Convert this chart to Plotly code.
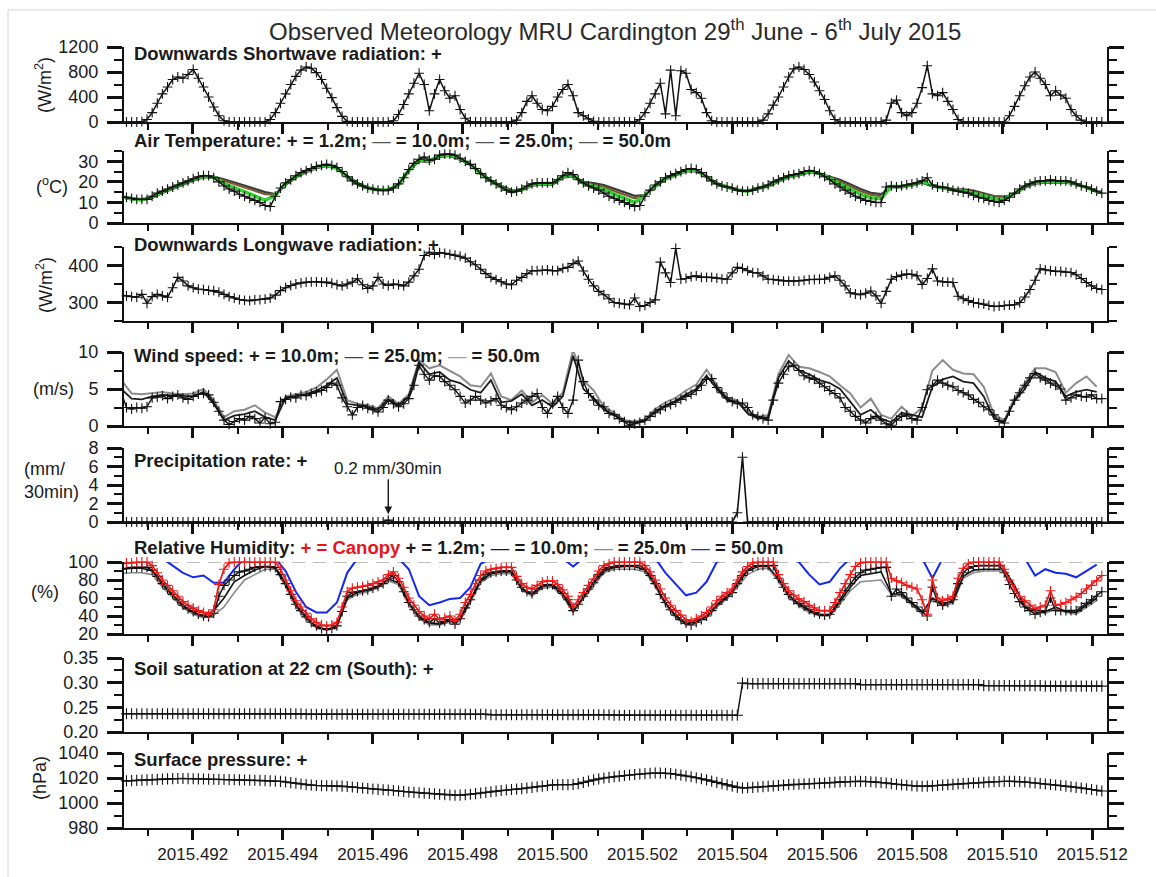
import numpy as np
import plotly.graph_objects as go

# ---------------------------------------------------------------------------
# Time base: hourly samples from 29 June 2015 00:00 UTC, as decimal year
# ---------------------------------------------------------------------------
YEAR = 2015
DAYS_IN_YEAR = 365
DAYS_BEFORE_START = 179          # 29 June is day-of-year 180
N_DAYS = 8
t_hour = YEAR + (DAYS_BEFORE_START + np.arange(N_DAYS * 24) / 24.0) / DAYS_IN_YEAR
t_2h = t_hour[::2]               # tower series are stored every 2 h

X_RANGE = [2015.49047, 2015.51233]
X_TICKS_MAJOR = 0.002
X_TICKS_MINOR = 0.001

# ---------------------------------------------------------------------------
# Observations (one row per day, 29 Jun ... 6 Jul)
# ---------------------------------------------------------------------------
# Downwards shortwave radiation (W/m2), hourly
sw_down = [
    0, 0, 0, 0, 5, 40, 150, 300, 450, 560, 680, 720, 700, 760, 840, 700, 560, 400, 240, 100, 20, 0, 0, 0,
    0, 0, 0, 0, 0, 40, 150, 300, 450, 600, 730, 830, 880, 860, 790, 680, 540, 390, 230, 90, 10, 0, 0, 0,
    0, 0, 0, 0, 0, 20, 120, 280, 450, 620, 780, 600, 180, 450, 680, 500, 380, 420, 200, 60, 5, 0, 0, 0,
    0, 0, 0, 0, 0, 30, 150, 330, 420, 300, 200, 180, 250, 400, 520, 600, 420, 150, 100, 50, 10, 0, 0, 0,
    0, 0, 0, 0, 0, 40, 150, 300, 450, 620, 130, 830, 100, 820, 780, 520, 470, 380, 150, 20, 0, 0, 0, 0,
    0, 0, 0, 0, 0, 30, 130, 270, 400, 560, 720, 850, 880, 840, 760, 640, 500, 360, 180, 40, 0, 0, 0, 0,
    0, 0, 0, 0, 0, 30, 300, 350, 150, 100, 150, 300, 550, 900, 450, 420, 470, 330, 200, 40, 0, 0, 0, 0,
    0, 0, 0, 0, 0, 100, 250, 420, 580, 720, 800, 700, 600, 420, 500, 430, 380, 200, 100, 30, 0, 0, 0, 0,
]

# Air temperature at 1.2 m (deg C), hourly
temp_1p2 = [
    13, 12.5, 12, 11.5, 11.5, 11.5, 13, 14.5, 15.5, 16.5, 17.5, 18.5, 19.5, 20.5, 21.5, 22.5, 23, 23, 22, 20, 18, 16.5, 15.5, 14,
    13, 12, 11, 10, 8.5, 8, 13, 17, 19.5, 21, 23, 24.5, 25.5, 26.5, 27.5, 28, 28.5, 28, 27, 25, 22.5, 20.5, 19, 18,
    17, 16.5, 16, 15.8, 16, 17, 19, 22, 26, 29, 31, 32, 30.5, 31, 33, 33.5, 33.5, 33, 31.5, 30, 28.5, 26.5, 24, 22,
    20.5, 19, 17.5, 16, 15, 15.5, 16.5, 18, 19, 19.5, 19.5, 19.5, 19.5, 21, 23, 24.5, 23.5, 21, 19.5, 18, 17, 16, 14.5, 13,
    12, 11, 10, 9, 8, 8.5, 13, 16, 18.5, 20, 22, 23, 24, 25, 26, 26.5, 26, 24.5, 22.5, 20.5, 19, 18, 17.5, 17,
    16, 15.5, 15.5, 16, 17, 17.5, 18.5, 20, 21, 22, 23, 23.5, 24, 25, 25.5, 25, 24, 22.5, 21, 19, 17.5, 16, 14.5, 13,
    12, 11, 10.5, 10, 10, 17.5, 18, 17.5, 18, 18.5, 19, 19.5, 20.5, 22, 18.5, 17.5, 17.5, 17, 16, 15.5, 15, 14.5, 13.5, 12.5,
    12, 11, 10.5, 10, 11, 12.5, 14.5, 16.5, 18, 19, 20, 20.5, 20.5, 21, 20.5, 20.5, 20.5, 20, 19, 18, 17.5, 16.5, 15.5, 14.5,
]

# Tower air temperatures (deg C), every 2 h
temp_10 = [
    12.8, 11.8, 11.3, 12.7, 15.2, 17.2, 19.2, 21.2, 22.7, 22.2, 19.2, 17.3,
    15.2, 13.2, 11.0, 13.5, 19.2, 22.7, 25.2, 27.2, 28.2, 26.7, 22.4, 19.0,
    17.0, 16.0, 16.0, 18.7, 25.7, 30.7, 30.2, 32.7, 33.2, 31.2, 28.3, 24.0,
    20.4, 17.5, 15.0, 16.2, 18.7, 19.2, 19.2, 22.7, 23.2, 19.4, 18.0, 16.3,
    14.0, 12.0, 10.0, 13.5, 18.2, 21.7, 23.7, 25.7, 25.7, 22.5, 19.0, 17.5,
    16.0, 15.5, 16.8, 18.2, 20.7, 22.7, 23.7, 25.2, 24.0, 21.8, 19.0, 16.3,
    14.0, 12.3, 11.8, 17.8, 17.8, 18.7, 20.2, 18.3, 17.3, 16.0, 15.5, 14.5,
    13.3, 11.8, 11.8, 14.3, 17.8, 19.7, 20.2, 20.2, 20.2, 18.8, 17.3, 15.3,
]
temp_25 = [
    12.6, 11.6, 11.1, 12.4, 14.9, 16.9, 18.9, 20.9, 22.4, 22.3, 20.6, 19.0,
    17.2, 15.6, 14.0, 13.8, 18.9, 22.4, 24.9, 26.9, 27.9, 26.5, 22.6, 19.3,
    17.1, 16.1, 16.0, 18.5, 25.4, 30.4, 29.9, 32.4, 32.9, 31.0, 28.3, 24.2,
    20.5, 17.8, 15.5, 16.0, 18.4, 18.9, 18.9, 22.4, 22.9, 19.8, 18.8, 17.6,
    15.6, 13.8, 12.0, 13.6, 17.9, 21.4, 23.4, 25.4, 25.4, 22.7, 19.2, 17.7,
    16.0, 15.5, 16.6, 17.9, 20.4, 22.4, 23.4, 24.9, 24.0, 22.2, 20.2, 17.8,
    15.5, 13.8, 13.0, 17.5, 17.5, 18.4, 19.9, 18.0, 17.0, 16.2, 16.0, 15.2,
    14.0, 12.6, 12.4, 14.1, 17.4, 19.4, 19.9, 19.9, 19.9, 18.8, 17.4, 15.6,
]
temp_50 = [
    12.5, 11.5, 11.0, 12.2, 14.6, 16.6, 18.6, 20.6, 22.1, 22.5, 21.2, 19.8,
    18.2, 16.6, 15.0, 14.0, 18.6, 22.1, 24.6, 26.6, 27.6, 26.4, 22.8, 19.6,
    17.3, 16.3, 16.0, 18.3, 25.1, 30.1, 29.6, 32.1, 32.6, 30.8, 28.3, 24.4,
    20.7, 18.1, 16.0, 15.8, 18.1, 18.6, 18.6, 22.1, 22.6, 20.0, 19.4, 18.4,
    16.7, 15.0, 13.2, 13.6, 17.6, 21.1, 23.1, 25.1, 25.1, 22.9, 19.4, 17.8,
    16.0, 15.5, 16.5, 17.7, 20.1, 22.1, 23.1, 24.6, 24.0, 22.5, 21.0, 18.8,
    16.5, 14.7, 14.0, 17.3, 17.3, 18.1, 19.6, 17.8, 16.8, 16.3, 16.4, 15.7,
    14.4, 13.1, 12.8, 14.0, 17.1, 19.1, 19.6, 19.6, 19.6, 18.8, 17.5, 15.9,
]

# Downwards longwave radiation (W/m2), hourly
lw_down = [
    320, 318, 316, 314, 322, 298, 316, 322, 318, 314, 340, 368, 358, 345, 340, 336, 335, 333, 332, 328, 322, 316, 312, 308,
    306, 305, 307, 308, 309, 312, 320, 332, 340, 346, 350, 353, 355, 356, 356, 355, 355, 352, 348, 345, 350, 355, 364, 348,
    338, 345, 368, 350, 346, 350, 348, 345, 355, 372, 390, 427, 436, 430, 435, 433, 430, 428, 425, 420, 410, 402, 390, 378,
    368, 362, 356, 350, 348, 360, 368, 378, 386, 386, 387, 388, 386, 386, 392, 395, 405, 412, 385, 363, 345, 330, 321, 310,
    300, 298, 296, 294, 312, 289, 292, 300, 307, 409, 380, 354, 446, 363, 365, 370, 372, 368, 368, 368, 366, 364, 363, 380,
    395, 392, 386, 381, 380, 372, 363, 362, 360, 358, 358, 358, 358, 360, 362, 362, 363, 363, 368, 372, 360, 345, 326, 323,
    321, 325, 331, 318, 298, 330, 363, 370, 374, 377, 376, 372, 349, 365, 391, 358, 356, 355, 354, 317, 310, 305, 300, 298,
    296, 292, 289, 290, 292, 293, 294, 300, 315, 335, 360, 391, 388, 386, 384, 384, 382, 381, 375, 365, 354, 345, 338, 335,
]

# Wind speed at 10 m (m/s), hourly
wind_10 = [
    4.5, 2.5, 2.3, 2.5, 2.4, 2.6, 3.8, 3.9, 4.1, 3.7, 4.0, 4.2, 3.8, 3.6, 4.0, 4.3, 4.4, 4.2, 3.2, 2.0, 0.8, 0.2, 0.6, 1.0,
    0.8, 1.3, 1.0, 0.4, 1.1, 0.3, 0.5, 3.3, 3.6, 3.9, 3.8, 4.2, 4.1, 4.4, 4.6, 4.8, 5.2, 5.8, 5.5, 3.8, 2.6, 1.5, 2.5, 2.8,
    2.4, 2.2, 1.9, 2.5, 3.5, 3.0, 2.6, 3.0, 3.7, 5.5, 8.2, 7.0, 6.2, 6.8, 6.7, 6.0, 5.5, 4.9, 4.0, 3.1, 3.5, 4.0, 3.5, 3.1,
    3.4, 3.7, 2.8, 2.5, 2.2, 2.6, 3.1, 3.5, 4.0, 4.4, 2.5, 1.7, 3.0, 4.0, 2.5, 1.7, 3.5, 8.9, 6.0, 4.4, 3.5, 2.8, 2.6, 1.7,
    1.5, 1.0, 0.6, 0.1, 0.3, 0.5, 0.8, 1.3, 1.8, 2.2, 2.6, 2.9, 3.2, 3.6, 4.0, 4.3, 4.8, 5.5, 6.3, 6.4, 5.2, 4.5, 3.8, 3.3,
    3.0, 3.1, 2.5, 1.5, 1.3, 1.0, 0.8, 3.5, 5.8, 7.0, 8.0, 8.2, 7.5, 6.8, 6.5, 6.3, 5.8, 5.3, 4.8, 4.4, 3.8, 2.5, 2.0, 1.3,
    0.8, 0.4, 1.0, 1.3, 0.8, 0.3, 0.1, 0.8, 1.3, 1.5, 1.0, 0.8, 2.5, 4.9, 5.5, 6.2, 5.8, 5.5, 5.3, 4.8, 4.5, 4.2, 3.6, 3.2,
    2.6, 2.2, 1.5, 0.6, 0.4, 2.0, 3.5, 4.5, 5.5, 6.5, 7.1, 6.5, 6.2, 5.8, 5.5, 5.0, 3.5, 3.8, 4.2, 4.0, 3.9, 4.2, 3.7, 3.7,
]

# Tower wind speeds (m/s), every 2 h
wind_25 = [
    5.0, 3.7, 3.6, 4.0, 4.2, 4.1, 4.0, 4.0, 4.6, 3.0, 0.8, 1.4,
    1.6, 2.0, 1.2, 0.8, 3.8, 4.0, 4.3, 4.8, 5.5, 6.5, 3.0, 2.8,
    2.6, 2.2, 3.6, 2.8, 4.0, 8.6, 7.0, 7.3, 6.2, 5.8, 4.9, 4.5,
    6.2, 3.2, 3.4, 4.3, 2.8, 3.5, 2.6, 4.0, 9.5, 5.0, 3.8, 2.2,
    1.5, 0.6, 0.5, 0.7, 2.0, 2.8, 3.4, 4.3, 5.0, 6.8, 5.0, 3.5,
    3.3, 1.7, 1.0, 1.2, 6.5, 8.8, 7.5, 7.0, 6.2, 5.8, 5.0, 3.3,
    1.5, 2.2, 1.0, 0.5, 1.8, 1.5, 1.2, 5.3, 6.3, 6.7, 6.0, 5.8,
    4.0, 1.0, 0.6, 3.4, 5.0, 7.3, 6.5, 6.0, 4.0, 4.6, 4.9, 4.6,
]
wind_50 = [
    6.2, 4.4, 4.3, 4.4, 4.6, 4.4, 4.3, 4.4, 5.0, 3.5, 1.2, 2.0,
    2.2, 2.8, 1.8, 1.2, 4.0, 4.3, 4.6, 5.2, 6.3, 7.6, 3.5, 3.0,
    2.8, 2.4, 4.0, 3.0, 4.3, 8.9, 7.8, 8.2, 7.5, 6.7, 5.5, 5.3,
    7.1, 4.0, 3.5, 4.8, 3.2, 4.2, 3.0, 4.5, 10.3, 6.2, 4.8, 2.6,
    1.8, 0.8, 0.6, 0.9, 2.3, 3.2, 3.8, 4.8, 5.6, 7.6, 5.5, 3.8,
    3.5, 2.0, 1.2, 1.5, 7.0, 9.6, 8.0, 7.8, 7.3, 6.7, 5.5, 4.4,
    2.5, 3.7, 1.5, 1.0, 2.6, 1.3, 2.5, 7.5, 8.9, 7.6, 7.1, 7.0,
    5.3, 1.5, 0.8, 3.8, 5.8, 7.8, 7.8, 7.3, 4.5, 5.8, 6.7, 5.3,
]

# Precipitation rate (mm/30min), hourly
precip = [
    0, 0, 0, 0, 0, 0, 0, 0, 0, 0, 0, 0, 0, 0, 0, 0, 0, 0, 0, 0, 0, 0, 0, 0,
    0, 0, 0, 0, 0, 0, 0, 0, 0, 0, 0, 0, 0, 0, 0, 0, 0, 0, 0, 0, 0, 0, 0, 0,
    0, 0, 0, 0, 0.2, 0, 0, 0, 0, 0, 0, 0, 0, 0, 0, 0, 0, 0, 0, 0, 0, 0, 0, 0,
    0, 0, 0, 0, 0, 0, 0, 0, 0, 0, 0, 0, 0, 0, 0, 0, 0, 0, 0, 0, 0, 0, 0, 0,
    0, 0, 0, 0, 0, 0, 0, 0, 0, 0, 0, 0, 0, 0, 0, 0, 0, 0, 0, 0, 0, 0, 0, 0,
    1.0, 7.0, 0, 0, 0, 0, 0, 0, 0, 0, 0, 0, 0, 0, 0, 0, 0, 0, 0, 0, 0, 0, 0, 0,
    0, 0, 0, 0, 0, 0, 0, 0, 0, 0, 0, 0, 0, 0, 0, 0, 0, 0, 0, 0, 0, 0, 0, 0,
    0, 0, 0, 0, 0, 0, 0, 0, 0, 0, 0, 0, 0, 0, 0, 0, 0, 0, 0, 0, 0, 0, 0, 0,
]
PRECIP_NOTE_INDEX = 52           # the 0.2 mm/30min sample on 1 July

# Relative humidity (%), canopy and 1.2 m, hourly
rh_canopy = [
    98, 99, 99, 100, 100, 100, 96, 88, 80, 74, 68, 62, 56, 52, 49, 46, 44, 42, 47, 75, 92, 99, 100, 100,
    100, 100, 100, 100, 100, 100, 100, 92, 80, 68, 57, 50, 43, 37, 33, 30, 29, 30, 33, 50, 67, 71, 72, 73,
    74, 76, 78, 80, 86, 89, 82, 72, 60, 52, 45, 40, 37, 42, 36, 38, 40, 35, 42, 55, 64, 76, 85, 90,
    92, 93, 94, 94, 94, 84, 76, 72, 70, 74, 78, 79, 79, 75, 69, 62, 50, 58, 66, 74, 81, 90, 96, 98,
    100, 100, 100, 100, 100, 100, 96, 89, 80, 70, 60, 52, 46, 41, 36, 34, 37, 40, 44, 50, 57, 62, 66, 70,
    80, 89, 95, 99, 100, 100, 100, 100, 86, 76, 68, 63, 59, 56, 52, 49, 46, 46, 46, 55, 66, 76, 86, 95,
    99, 100, 100, 100, 100, 100, 82, 79, 77, 74, 72, 70, 58, 42, 80, 60, 57, 59, 62, 82, 93, 98, 100, 100,
    100, 100, 100, 100, 92, 80, 70, 62, 57, 52, 48, 50, 52, 68, 52, 53, 55, 58, 61, 65, 70, 74, 79, 85,
]
rh_1p2 = [
    92, 93, 94, 94, 94, 94, 91, 84, 76, 70, 64, 58, 52, 48, 45, 42, 40, 39, 43, 62, 74, 80, 85, 89,
    90, 92, 94, 95, 95, 95, 94, 86, 76, 64, 53, 46, 39, 33, 29, 26, 25, 26, 29, 45, 62, 66, 67, 68,
    69, 71, 73, 76, 82, 85, 78, 67, 55, 47, 40, 36, 33, 37, 32, 34, 36, 31, 37, 49, 58, 70, 80, 86,
    88, 89, 90, 90, 90, 80, 72, 67, 65, 70, 74, 75, 75, 71, 65, 58, 46, 53, 62, 70, 77, 86, 92, 94,
    95, 96, 96, 96, 96, 96, 92, 85, 76, 64, 55, 47, 41, 36, 32, 30, 33, 36, 40, 46, 53, 58, 62, 66,
    76, 85, 91, 95, 96, 96, 96, 96, 82, 72, 64, 58, 54, 51, 47, 44, 42, 41, 42, 50, 58, 68, 76, 83,
    88, 91, 92, 93, 94, 94, 62, 70, 66, 60, 55, 50, 45, 40, 72, 56, 52, 55, 58, 76, 88, 93, 95, 96,
    96, 96, 96, 96, 88, 75, 65, 56, 50, 46, 42, 44, 46, 60, 46, 46, 46, 46, 46, 50, 54, 58, 62, 67,
]

# Tower relative humidity (%), every 2 h (50 m often above the plotted range)
rh_10 = [
    92, 93, 93, 90, 75, 63, 51, 44, 40, 46, 60, 78,
    85, 91, 95, 93, 75, 52, 38, 28, 25, 29, 60, 66,
    69, 73, 81, 77, 54, 39, 32, 31, 35, 36, 57, 79,
    87, 89, 89, 70, 64, 73, 74, 64, 45, 61, 76, 90,
    94, 95, 95, 91, 75, 54, 40, 31, 35, 39, 52, 61,
    75, 90, 95, 95, 81, 63, 53, 46, 41, 41, 56, 72,
    85, 87, 89, 65, 64, 54, 44, 60, 53, 56, 84, 91,
    92, 92, 92, 74, 50, 47, 45, 50, 45, 44, 52, 60,
]
rh_25 = [
    87, 88, 88, 86, 72, 60, 49, 42, 38, 41, 50, 66,
    80, 86, 92, 92, 73, 50, 36, 27, 24, 28, 58, 64,
    67, 71, 79, 75, 52, 37, 30, 30, 33, 35, 55, 77,
    85, 87, 87, 69, 62, 71, 72, 62, 44, 59, 74, 88,
    92, 92, 92, 89, 73, 52, 38, 30, 34, 38, 50, 59,
    72, 86, 92, 93, 79, 61, 51, 44, 40, 40, 53, 68,
    78, 79, 80, 64, 62, 52, 42, 58, 51, 54, 82, 88,
    90, 90, 90, 72, 49, 45, 43, 48, 44, 42, 50, 57,
]
rh_50 = [
    104, 104, 104, 104, 104, 96, 88, 83, 85, 77, 77, 92,
    104, 104, 104, 104, 90, 67, 50, 44, 44, 55, 88, 104,
    104, 104, 104, 104, 92, 62, 52, 55, 59, 60, 72, 98,
    104, 104, 104, 104, 104, 104, 104, 104, 95, 104, 104, 104,
    104, 104, 104, 104, 104, 88, 75, 63, 66, 78, 100, 104,
    104, 104, 104, 104, 104, 104, 100, 86, 75, 78, 93, 104,
    104, 104, 104, 104, 104, 104, 104, 82, 104, 104, 104, 104,
    104, 104, 104, 104, 104, 85, 92, 88, 87, 83, 90, 97,
]
RH_SATURATION = 100

# Soil saturation at 22 cm (South), hourly
soil_sat = [
    0.237, 0.237, 0.237, 0.237, 0.237, 0.237, 0.237, 0.237, 0.237, 0.237, 0.237, 0.237,
    0.237, 0.237, 0.237, 0.237, 0.237, 0.237, 0.237, 0.237, 0.237, 0.237, 0.237, 0.237,
    0.237, 0.237, 0.237, 0.237, 0.237, 0.237, 0.237, 0.237, 0.237, 0.237, 0.237, 0.237,
    0.236, 0.236, 0.236, 0.236, 0.236, 0.236, 0.236, 0.236, 0.236, 0.236, 0.236, 0.236,
    0.236, 0.236, 0.236, 0.236, 0.236, 0.236, 0.236, 0.236, 0.236, 0.236, 0.236, 0.236,
    0.236, 0.236, 0.236, 0.236, 0.236, 0.236, 0.236, 0.236, 0.236, 0.236, 0.236, 0.236,
    0.235, 0.235, 0.235, 0.235, 0.235, 0.235, 0.235, 0.235, 0.235, 0.235, 0.235, 0.235,
    0.235, 0.235, 0.235, 0.235, 0.235, 0.235, 0.235, 0.235, 0.235, 0.235, 0.235, 0.235,
    0.234, 0.234, 0.234, 0.234, 0.234, 0.234, 0.234, 0.234, 0.234, 0.234, 0.234, 0.234,
    0.234, 0.234, 0.234, 0.234, 0.234, 0.234, 0.234, 0.234, 0.234, 0.234, 0.234, 0.234,
    0.234, 0.299, 0.298, 0.298, 0.298, 0.298, 0.298, 0.298, 0.298, 0.298, 0.298, 0.298,
    0.298, 0.298, 0.298, 0.298, 0.298, 0.298, 0.298, 0.298, 0.298, 0.298, 0.298, 0.298,
    0.296, 0.296, 0.296, 0.296, 0.296, 0.296, 0.296, 0.296, 0.296, 0.296, 0.296, 0.296,
    0.296, 0.296, 0.296, 0.296, 0.296, 0.296, 0.296, 0.296, 0.296, 0.296, 0.296, 0.296,
    0.294, 0.294, 0.294, 0.294, 0.294, 0.294, 0.294, 0.294, 0.294, 0.294, 0.294, 0.294,
    0.293, 0.293, 0.293, 0.293, 0.293, 0.293, 0.293, 0.293, 0.293, 0.293, 0.293, 0.293,
]

# Surface pressure (hPa), hourly
pressure = [
    1017.5, 1017.7, 1017.9, 1018.1, 1018.3, 1018.5, 1018.7, 1018.9, 1019.1, 1019.3, 1019.5, 1019.6, 1019.6, 1019.5, 1019.4, 1019.3, 1019.2, 1019.1, 1019.0, 1018.9, 1018.8, 1018.7, 1018.6, 1018.5,
    1018.4, 1018.3, 1018.2, 1018.1, 1017.9, 1017.7, 1017.5, 1017.3, 1016.8, 1016.3, 1015.8, 1015.2, 1014.7, 1014.3, 1014.0, 1013.9, 1013.8, 1013.7, 1013.6, 1013.5, 1013.2, 1012.8, 1012.4, 1012.0,
    1011.6, 1011.2, 1010.9, 1010.6, 1010.3, 1010.0, 1009.6, 1009.2, 1008.8, 1008.5, 1008.2, 1007.9, 1007.6, 1007.3, 1007.0, 1006.7, 1006.4, 1006.2, 1006.3, 1006.6, 1007.0, 1007.5, 1008.0, 1008.5,
    1009.0, 1009.5, 1010.0, 1010.4, 1010.8, 1011.1, 1011.5, 1012.0, 1012.5, 1013.0, 1013.5, 1014.0, 1014.5, 1014.7, 1014.7, 1014.7, 1014.8, 1015.5, 1016.5, 1017.5, 1018.5, 1019.3, 1020.0, 1020.5,
    1021.0, 1021.5, 1022.0, 1022.4, 1022.8, 1023.2, 1023.5, 1023.8, 1024.0, 1024.0, 1023.8, 1023.5, 1023.0, 1022.3, 1021.6, 1021.0, 1020.2, 1019.4, 1018.5, 1017.5, 1016.5, 1015.5, 1014.5, 1013.5,
    1012.5, 1012.0, 1012.2, 1012.5, 1012.8, 1013.1, 1013.4, 1013.7, 1014.0, 1014.4, 1014.7, 1014.9, 1015.0, 1015.2, 1015.4, 1015.6, 1015.8, 1016.0, 1016.3, 1016.6, 1016.9, 1017.1, 1017.2, 1017.3,
    1017.3, 1017.2, 1017.0, 1016.7, 1016.4, 1016.0, 1015.5, 1015.0, 1014.6, 1014.2, 1013.8, 1013.5, 1013.4, 1013.5, 1013.7, 1014.0, 1014.3, 1014.6, 1014.9, 1015.2, 1015.5, 1015.8, 1016.0, 1016.2,
    1016.5, 1016.8, 1017.0, 1017.2, 1017.3, 1017.3, 1017.3, 1017.1, 1016.8, 1016.4, 1016.0, 1015.6, 1015.2, 1014.8, 1014.4, 1014.0, 1013.5, 1013.0, 1012.5, 1012.0, 1011.4, 1010.8, 1010.2, 1009.6,
]

for name, series, n in [
    ("sw_down", sw_down, 192), ("temp_1p2", temp_1p2, 192), ("lw_down", lw_down, 192),
    ("wind_10", wind_10, 192), ("precip", precip, 192), ("rh_canopy", rh_canopy, 192),
    ("rh_1p2", rh_1p2, 192), ("soil_sat", soil_sat, 192), ("pressure", pressure, 192),
    ("temp_10", temp_10, 96), ("temp_25", temp_25, 96), ("temp_50", temp_50, 96),
    ("wind_25", wind_25, 96), ("wind_50", wind_50, 96),
    ("rh_10", rh_10, 96), ("rh_25", rh_25, 96), ("rh_50", rh_50, 96),
]:
    assert len(series) == n, (name, len(series))

# ---------------------------------------------------------------------------
# Page layout (pixels)
# ---------------------------------------------------------------------------
W, H = 1156, 877
PLOT_LEFT, PLOT_RIGHT = 124, 1107
FONT = "Arial, Liberation Sans, sans-serif"
INK = "#1a1a1a"
TITLE_SIZE = 18.5

panels = [
    dict(top=47, bottom=122, rng=[0, 1200], dtick=400, minor=200, fmt=None),
    dict(top=151, bottom=223, rng=[0, 35], dtick=10, minor=5, fmt=None),
    dict(top=247, bottom=321, rng=[250, 450], dtick=100, minor=50, fmt=None),
    dict(top=352, bottom=426, rng=[0, 10], dtick=5, minor=2.5, fmt=None),
    dict(top=448, bottom=522, rng=[0, 8], dtick=2, minor=1, fmt=None),
    dict(top=562, bottom=634, rng=[20, 100], dtick=20, minor=10, fmt=None),
    dict(top=658, bottom=732, rng=[0.20, 0.35], dtick=0.05, minor=0.025, fmt=".2f"),
    dict(top=753, bottom=828, rng=[980, 1040], dtick=20, minor=10, fmt=None),
]
N = len(panels)


def px_x(p):
    return p / W


def px_y(p):
    return 1 - p / H


fig = go.Figure()


def ax_names(i):
    return ("x" if i == 1 else f"x{i}"), ("y" if i == 1 else f"y{i}")


def add_series(i, x, y, color, width=1.3, marker=False, msize=7, dash=None):
    xa, ya = ax_names(i)
    kw = dict(x=x, y=y, xaxis=xa, yaxis=ya, showlegend=False, hoverinfo="skip",
              line=dict(color=color, width=width, dash=dash))
    if marker:
        kw.update(mode="lines+markers", cliponaxis=False,
                  marker=dict(symbol="cross-thin", size=msize, color=color,
                              line=dict(width=1.1, color=color)))
    else:
        kw.update(mode="lines")
    fig.add_trace(go.Scatter(**kw))


BLACK = "#111111"
# 1: shortwave
add_series(1, t_hour, sw_down, BLACK, width=1.5, marker=True)
# 2: air temperature (tower levels underneath the 1.2 m record)
add_series(2, t_2h, temp_50, "#3a3a3a", width=2.2)
add_series(2, t_2h, temp_25, "#7a5a30", width=2.2)
add_series(2, t_2h, temp_10, "#2fd22f", width=3.5)
add_series(2, t_hour, temp_1p2, BLACK, width=1.5, marker=True)
# 3: longwave
add_series(3, t_hour, lw_down, BLACK, width=1.5, marker=True)
# 4: wind speed
add_series(4, t_2h, wind_50, "#8c8c8c", width=2.0)
add_series(4, t_2h, wind_25, "#1e1e1e", width=1.8)
add_series(4, t_hour, wind_10, BLACK, width=1.4, marker=True)
# 5: precipitation
add_series(5, t_hour, precip, BLACK, width=1.6, marker=True)
# 6: relative humidity
add_series(6, t_2h, rh_50, "#1428f0", width=2.0)
add_series(6, t_2h, rh_25, "#8a8a8a", width=1.6)
add_series(6, t_2h, rh_10, "#111111", width=1.6)
add_series(6, t_hour, rh_1p2, BLACK, width=1.5, marker=True)
add_series(6, t_hour, rh_canopy, "#f01818", width=1.7, marker=True)
# 7: soil saturation
add_series(7, t_hour, soil_sat, BLACK, width=1.4, marker=True, msize=8)
# 8: surface pressure
add_series(8, t_hour, pressure, BLACK, width=1.4, marker=True, msize=8)

layout = dict(
    width=W, height=H, margin=dict(l=0, r=0, t=0, b=0),
    paper_bgcolor="white", plot_bgcolor="white",
    font=dict(family=FONT, color=INK, size=17),
    showlegend=False,
)

for i, p in enumerate(panels, start=1):
    xkey = "xaxis" if i == 1 else f"xaxis{i}"
    ykey = "yaxis" if i == 1 else f"yaxis{i}"
    xa, ya = ax_names(i)
    layout[xkey] = dict(
        domain=[px_x(PLOT_LEFT), px_x(PLOT_RIGHT)], anchor=ya, range=X_RANGE,
        showline=True, linecolor=BLACK, linewidth=2, mirror=False,
        ticks="outside", ticklen=10, tickwidth=2.5, tickcolor=BLACK,
        tick0=2015.492, dtick=X_TICKS_MAJOR, tickformat=".3f",
        minor=dict(dtick=X_TICKS_MINOR, tick0=2015.492, ticks="outside",
                   ticklen=6, tickwidth=2, tickcolor=BLACK),
        showticklabels=(i == N), showgrid=False, zeroline=False,
        tickfont=dict(size=17, color=INK, family=FONT),
        automargin=False, fixedrange=True,
    )
    yax = dict(
        domain=[px_y(p["bottom"]), px_y(p["top"])], anchor=xa, range=p["rng"],
        showline=True, linecolor=BLACK, linewidth=2, mirror="ticks",
        ticks="outside", ticklen=15, tickwidth=2.5, tickcolor=BLACK,
        tick0=0, dtick=p["dtick"], ticklabelstandoff=5,
        minor=dict(dtick=p["minor"], ticks="outside", ticklen=8, tickwidth=2,
                   tickcolor=BLACK),
        showgrid=False, zeroline=False,
        tickfont=dict(size=18, color=INK, family=FONT),
        automargin=False, fixedrange=True,
    )
    if p["fmt"]:
        yax["tickformat"] = p["fmt"]
    layout[ykey] = yax

fig.update_layout(**layout)

# Saturation reference line on the humidity panel
fig.add_shape(type="line", xref="x6 domain", x0=0, x1=1, yref="y6",
              y0=RH_SATURATION, y1=RH_SATURATION, layer="below",
              line=dict(color="#a8a8a8", width=1.6, dash="13px,8px"))

# Thin frame at the top and left edge of the page
fig.add_shape(type="line", xref="paper", yref="paper", x0=px_x(8), x1=1,
              y0=px_y(10), y1=px_y(10), line=dict(color="#d4d4d4", width=1))
fig.add_shape(type="line", xref="paper", yref="paper", x0=px_x(8), x1=px_x(8),
              y0=0, y1=px_y(10), line=dict(color="#d4d4d4", width=1))

annotations = []


def note(text, xp, yp, size=TITLE_SIZE, xanchor="left", angle=0, color=INK, yanchor="middle", align="left"):
    annotations.append(dict(text=text, xref="paper", yref="paper", x=px_x(xp), y=px_y(yp),
                            xanchor=xanchor, yanchor=yanchor, showarrow=False, textangle=angle,
                            align=align, font=dict(family=FONT, size=size, color=color)))


# Figure title
note("Observed Meteorology MRU Cardington 29<sup>th</sup> June - 6<sup>th</sup> July 2015",
     615, 30, size=24, xanchor="center", color="#2a2a2a")

# Panel titles
TITLE_X = 132
DASH_DARK = "<span style='color:#555555'>—</span>"
note("<b>Downwards Shortwave radiation: +</b>", TITLE_X, 53)
note("<b>Air Temperature: + = 1.2m; </b>" + DASH_DARK + "<b> = 10.0m; </b>" + DASH_DARK +
     "<b> = 25.0m; </b>" + DASH_DARK + "<b> = 50.0m</b>", TITLE_X, 141)
note("<b>Downwards Longwave radiation: +</b>", TITLE_X, 244)
note("<b>Wind speed: + = 10.0m; </b><span style='color:#444444'>—</span><b> = 25.0m; </b>"
     "<span style='color:#a0a0a0'>—</span><b> = 50.0m</b>", TITLE_X, 355)
note("<b>Precipitation rate: +</b>", TITLE_X, 460)
note("<b>Relative Humidity: </b><span style='color:#e8141c'><b>+ = Canopy</b></span>"
     "<b> + = 1.2m; </b>—<b> = 10.0m; </b><span style='color:#8a8a8a'>—</span>"
     "<b> = 25.0m </b><span style='color:#1428f0'>—</span><b> = 50.0m</b>", TITLE_X, 547)
note("<b>Soil saturation at 22 cm (South): +</b>", TITLE_X, 668)
note("<b>Surface pressure: +</b>", TITLE_X, 759)

# Axis unit labels
note("(W/m<sup>2</sup>)", 44, 85, size=18, xanchor="center", angle=-90)
note("(<sup>o</sup>C)", 52, 185, size=18, xanchor="center")
note("(W/m<sup>2</sup>)", 44, 285, size=18, xanchor="center", angle=-90)
note("(m/s)", 53, 389, size=18, xanchor="center")
note("(mm/<br>30min)", 22, 480, size=18, xanchor="left")
note("(%)", 45, 592, size=18, xanchor="center")
note("(hPa)", 40, 778, size=18, xanchor="center", angle=-90)

# Marked precipitation sample
annotations.append(dict(
    x=t_hour[PRECIP_NOTE_INDEX], y=precip[PRECIP_NOTE_INDEX], xref="x5", yref="y5",
    text="0.2 mm/30min", showarrow=True, arrowhead=2, arrowsize=1.1, arrowwidth=1.4,
    arrowcolor=INK, ax=0, ay=-52, standoff=6,
    font=dict(family=FONT, size=17, color=INK)))

fig.update_layout(annotations=annotations)

fig.write_html("out.html")
